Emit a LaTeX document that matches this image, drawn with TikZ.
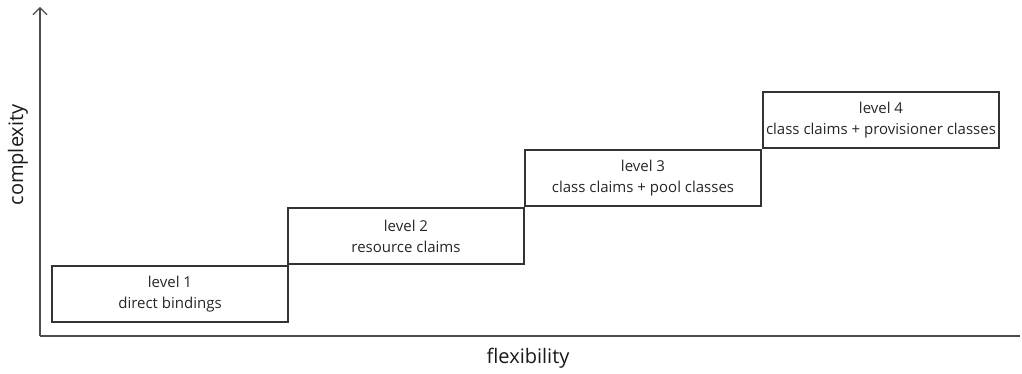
\documentclass[tikz,border=0pt]{standalone}
\usepackage{fontspec}
\setmainfont{Open Sans}
\usetikzlibrary{arrows.meta}

\begin{document}
\begin{tikzpicture}[
  x=1pt, y=1pt,
  level/.style={
    rectangle, draw=black!80, line width=1.1pt,
    minimum width=236pt, minimum height=56pt,
    align=center, inner sep=2pt, text=black!85,
    font=\fontsize{15}{21}\selectfont
  },
  axis/.style={draw=black!70, line width=1.1pt},
  axislabel/.style={text=black!90, font=\fontsize{20}{22}\selectfont}
]
\useasboundingbox (0,0) rectangle (1022,374);

% --- Axes ---
\coordinate (origin) at (40, 38);
\coordinate (ytop) at (40, 367);
\coordinate (xend) at (1020, 38);
\draw[axis, -{Straight Barb[length=7pt, width=14pt]}] (origin) -- (ytop);
\draw[axis] (origin) -- (xend);

\node[axislabel, rotate=90] (ylab) at (18, 219) {complexity};
\node[axislabel] (xlab) at (528, 16) {flexibility};

% --- Staircase of levels ---
\node[level] (l1) at (170, 80)  {level 1\\direct bindings};
\node[level] (l2) at (406, 138) {level 2\\resource claims};
\node[level] (l3) at (643, 196) {level 3\\class claims + pool classes};
\node[level] (l4) at (881, 254) {level 4\\class claims + provisioner classes};

\end{tikzpicture}
\end{document}
